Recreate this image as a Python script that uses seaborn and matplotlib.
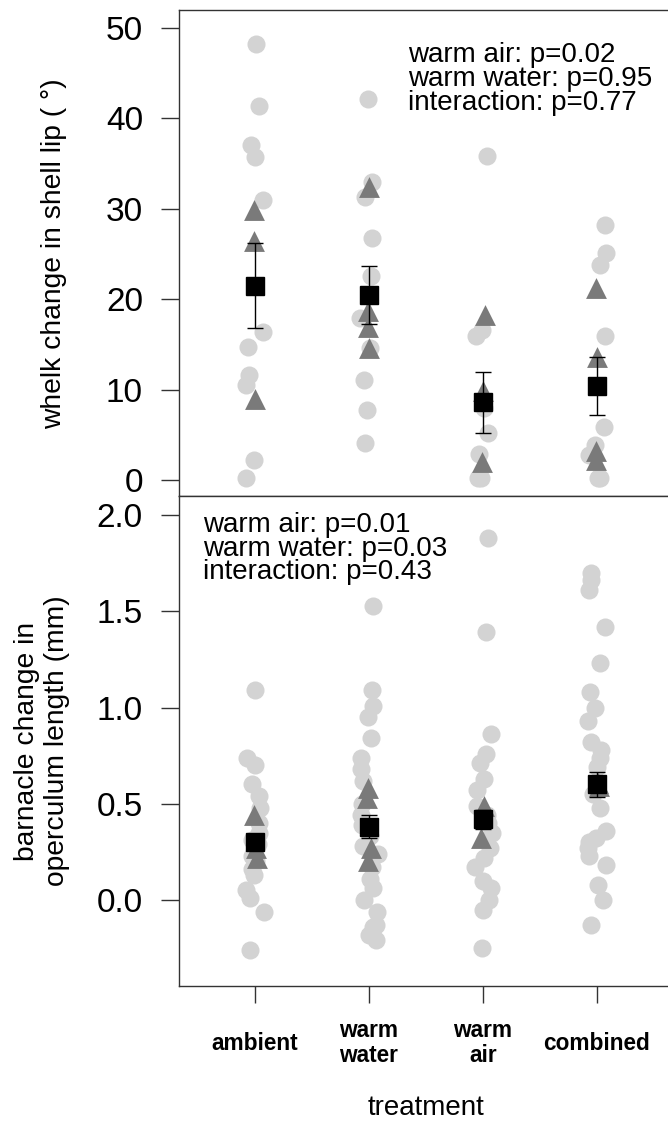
import numpy as np
import pandas as pd
import seaborn as sns
import matplotlib.pyplot as plt

# treatments and axis labels
treatments = ["ambient", "warm water", "warm air", "combined"]
tick_labels = ["ambient", "warm\nwater", "warm\nair", "combined"]

# whelk: individual snails (light grey circles)
whelk_ambient = [48.2, 41.4, 37.0, 35.7, 31.0, 16.4, 14.7, 11.6, 10.5, 2.2, 0.2]
whelk_water = [42.1, 32.9, 31.3, 26.8, 22.5, 17.9, 14.6, 11.0, 7.7, 4.1]
whelk_air = [35.8, 16.6, 15.9, 8.0, 5.2, 2.9, 0.2, 0.2]
whelk_combined = [28.2, 25.1, 23.8, 15.9, 5.9, 3.9, 2.8, 0.2, 0.2]

# whelk: tank means (dark grey triangles)
whelk_tank_ambient = [29.9, 26.4, 9.0]
whelk_tank_water = [32.4, 18.7, 16.9, 14.6]
whelk_tank_air = [18.2, 9.8, 2.0]
whelk_tank_combined = [21.2, 13.6, 3.2, 2.2]

# whelk: treatment mean and standard error
whelk_mean = [21.5, 20.5, 8.6, 10.4]
whelk_se = [4.65, 3.2, 3.35, 3.2]

# barnacle: individuals
barn_ambient = [1.09, 0.74, 0.70, 0.60, 0.54, 0.48, 0.40, 0.35, 0.31, 0.29, 0.23,
                0.20, 0.16, 0.13, 0.05, 0.01, -0.06, -0.26]
barn_water = [1.53, 1.09, 1.01, 0.95, 0.84, 0.74, 0.68, 0.62, 0.50, 0.44, 0.39, 0.33,
              0.28, 0.24, 0.17, 0.11, 0.06, 0.0, -0.06, -0.13, -0.14, -0.18, -0.21]
barn_air = [1.88, 1.39, 0.86, 0.76, 0.71, 0.63, 0.57, 0.49, 0.44, 0.40, 0.35, 0.27,
            0.22, 0.17, 0.10, 0.06, 0.0, -0.05, -0.25]
barn_combined = [1.70, 1.66, 1.61, 1.42, 1.23, 1.08, 1.00, 0.93, 0.82, 0.78, 0.74, 0.69,
                 0.55, 0.48, 0.36, 0.32, 0.30, 0.27, 0.23, 0.18, 0.08, 0.0, -0.13]

# barnacle: tank means
barn_tank_ambient = [0.44, 0.27, 0.22]
barn_tank_water = [0.58, 0.53, 0.27, 0.20]
barn_tank_air = [0.49, 0.32]
barn_tank_combined = [0.61, 0.59]

# barnacle: treatment mean and standard error
barn_mean = [0.30, 0.38, 0.42, 0.60]
barn_se = [0.035, 0.06, 0.05, 0.065]

# p-values
whelk_stats = ["warm air: p=0.02", "warm water: p=0.95", "interaction: p=0.77"]
barn_stats = ["warm air: p=0.01", "warm water: p=0.03", "interaction: p=0.43"]


def to_long(groups):
    rows = [(t, v) for t, vals in zip(treatments, groups) for v in vals]
    return pd.DataFrame(rows, columns=["treatment", "value"])


whelk_df = to_long([whelk_ambient, whelk_water, whelk_air, whelk_combined])
whelk_tank_df = to_long([whelk_tank_ambient, whelk_tank_water, whelk_tank_air, whelk_tank_combined])
barn_df = to_long([barn_ambient, barn_water, barn_air, barn_combined])
barn_tank_df = to_long([barn_tank_ambient, barn_tank_water, barn_tank_air, barn_tank_combined])

sns.set_style("ticks")
plt.rcParams["font.family"] = ["Liberation Sans", "DejaVu Sans"]
plt.rcParams["text.color"] = "black"
plt.rcParams["xtick.labelcolor"] = "black"
plt.rcParams["ytick.labelcolor"] = "black"

W, H = 668, 1124
fig = plt.figure(figsize=(W / 100, H / 100), dpi=100)
left = 179 / W
width = 494 / W
ax1 = fig.add_axes([left, 1 - 496 / H, width, 486 / H])
ax2 = fig.add_axes([left, 1 - 986 / H, width, 490 / H])

np.random.seed(3)


def draw_panel(ax, df, tank_df, mean, se):
    sns.stripplot(data=df, x="treatment", y="value", order=treatments, color="#d3d3d3",
                  size=13, jitter=0.085, linewidth=0, ax=ax, zorder=2)
    sns.stripplot(data=tank_df, x="treatment", y="value", order=treatments, color="#7a7a7a",
                  marker="^", size=15, jitter=0.02, linewidth=0, ax=ax, zorder=3)
    ax.errorbar(np.arange(len(treatments)), mean, yerr=se, fmt="s", color="black",
                ms=12.5, capsize=6, elinewidth=1, capthick=1, zorder=5)
    ax.set_xlim(-0.666, 3.667)
    ax.set_xlabel("")
    ax.set_ylabel("")
    for s in ax.spines.values():
        s.set_visible(True)
        s.set_linewidth(1)
        s.set_color("#333333")
    ax.tick_params(axis="y", labelsize=24, length=13, width=1, color="#333333",
                   labelcolor="black", pad=13)


draw_panel(ax1, whelk_df, whelk_tank_df, whelk_mean, whelk_se)
ax1.set_ylim(-1.77, 51.96)
ax1.set_yticks([0, 10, 20, 30, 40, 50])
ax1.tick_params(axis="x", bottom=False, labelbottom=False)

draw_panel(ax2, barn_df, barn_tank_df, barn_mean, barn_se)
ax2.set_ylim(-0.447, 2.099)
ax2.set_yticks([0.0, 0.5, 1.0, 1.5, 2.0])
ax2.set_yticklabels(["0.0", "0.5", "1.0", "1.5", "2.0"])
ax2.set_xticks(np.arange(len(treatments)))
ax2.set_xticklabels(tick_labels, fontweight="bold", va="center", linespacing=1.1)
ax2.tick_params(axis="x", labelsize=16.3, length=12.2, width=1, color="#333333",
                labelcolor="black", pad=29)

# p-value annotations
for i, line in enumerate(whelk_stats):
    fig.text(408 / W, 1 - (62 + 24 * i) / H, line, fontsize=20, va="baseline", ha="left")
for i, line in enumerate(barn_stats):
    fig.text(203 / W, 1 - (532 + 23.5 * i) / H, line, fontsize=20, va="baseline", ha="left")

# axis titles
fig.text(54 / W, 1 - 254 / H, "whelk change in shell lip ( \u00b0)", rotation=90,
         fontsize=20.3, ha="center", va="center")
fig.text(42 / W, 1 - 741 / H, "barnacle change in\noperculum length (mm)", rotation=90,
         fontsize=20.3, ha="center", va="center", linespacing=1.2)
fig.text(426 / W, 1 - 1108 / H, "treatment", fontsize=20, ha="center", va="center")

fig.savefig("out.png", dpi=100)
